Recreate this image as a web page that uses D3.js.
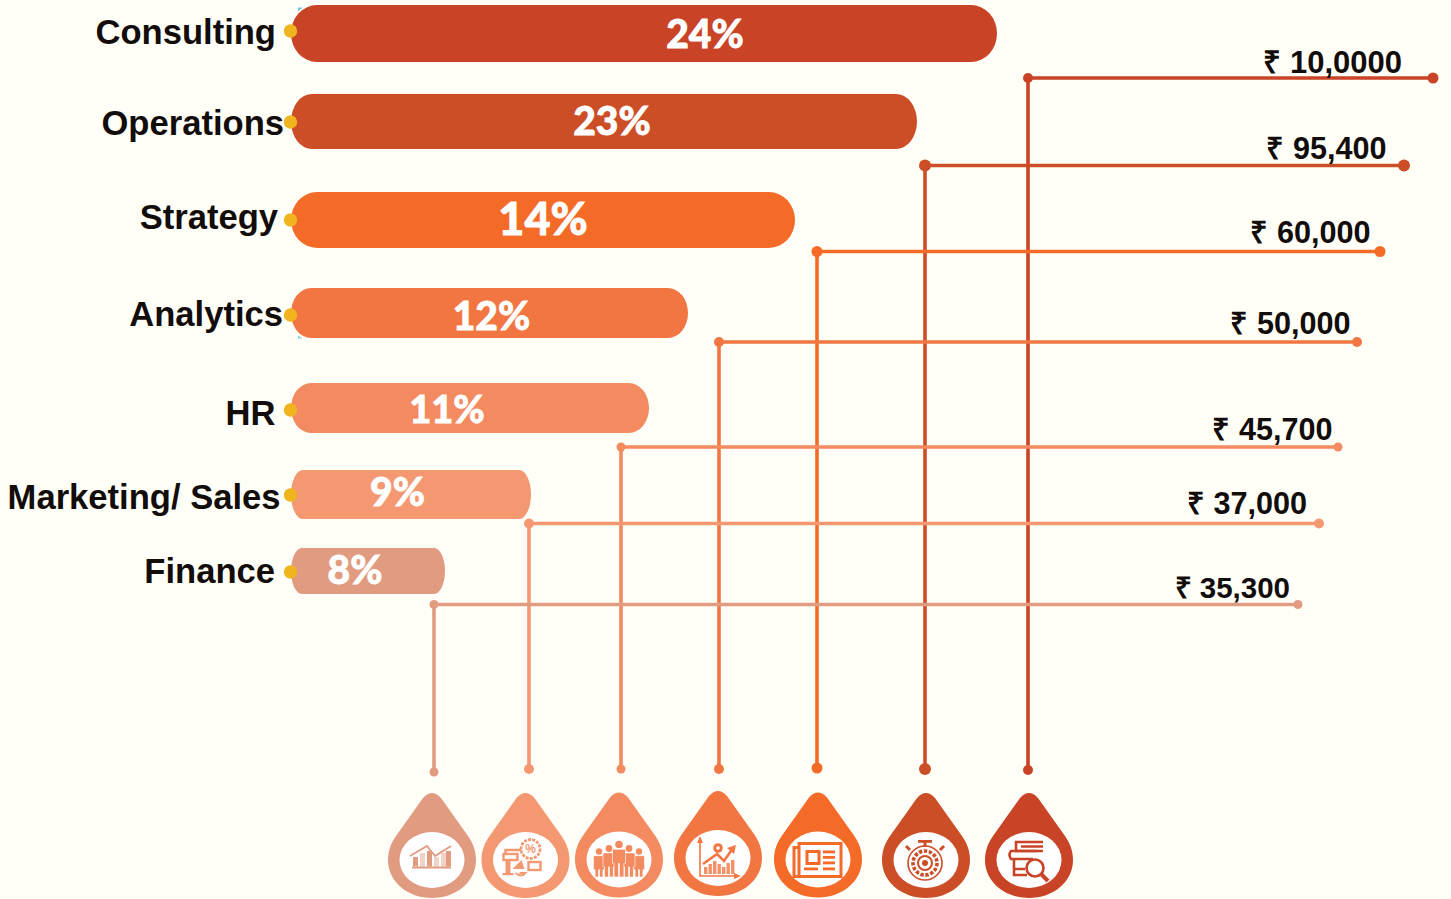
<!DOCTYPE html>
<html>
<head>
<meta charset="utf-8">
<script src="https://cdn.jsdelivr.net/npm/d3@7"></script>
<style>
  html, body { margin: 0; padding: 0; background: #fffff8; }
  svg { display: block; }
</style>
</head>
<body>
<svg id="chart" width="1451" height="899"></svg>
<script>
// --- Data ---
const categories = ["Consulting", "Operations", "Strategy", "Analytics", "HR", "Marketing/ Sales", "Finance"];
const shares = [24, 23, 14, 12, 11, 9, 8];
const salaries = [100000, 95400, 60000, 50000, 45700, 37000, 35300];
const salaryLabels = ["₹ 10,0000", "₹ 95,400", "₹ 60,000", "₹ 50,000", "₹ 45,700", "₹ 37,000", "₹ 35,300"];
const colors = ["#c94327", "#cb4e27", "#f46b28", "#f27642", "#f38a60", "#f49872", "#e09b80"];

const rows = categories.map((name, i) => ({
  name, share: shares[i], salary: salaries[i], label: salaryLabels[i], color: colors[i], icon: i
}));

const svg = d3.select("#chart");

// --- Scales: the infographic is hand laid out, so lengths are not proportional ---
const barLeft = 291;
const barWidth = d3.scaleLinear().domain([8, 9, 11, 12, 14, 23, 24]).range([154, 240, 358, 397, 504, 626, 706]);
const lineEnd = d3.scaleLinear().domain([35300, 37000, 45700, 50000, 60000, 95400, 100000])
  .range([1298, 1319, 1338, 1357, 1380, 1404, 1433]);

const barY = d3.scaleOrdinal(categories, [5, 94, 192, 288, 383, 470, 548]);
const barH = d3.scaleOrdinal(categories, [57, 55, 56, 50, 50, 49, 46]);
const barRx = d3.scaleOrdinal(categories, [26, 21, 26, 20, 20, 12, 11]);
const nameBase = d3.scaleOrdinal(categories, [44, 135, 229, 326, 425, 509, 583]);
const nameEnd = d3.scaleOrdinal(categories, [276, 284, 278, 283, 275.5, 280.5, 275]);
const dotY = d3.scaleOrdinal(categories, [31, 122, 220, 315, 410, 495, 572]);
const pctX = d3.scaleOrdinal(categories, [705, 612, 543, 491.5, 447, 397.5, 355]);
const pctBase = d3.scaleOrdinal(categories, [48, 135, 235, 329.5, 422.5, 506, 583.5]);
const pctSize = d3.scaleOrdinal(categories, [39, 39, 45, 39, 38, 39, 39]);
const lineY = d3.scaleOrdinal(categories, [78, 165.5, 251.5, 342, 447, 523.5, 604.5]);
const lineX = d3.scaleOrdinal(categories, [1028, 925, 817, 719, 621, 529, 434]);
const lineBottom = d3.scaleOrdinal(categories, [770, 769, 768, 769, 769, 769, 772]);
const endR = d3.scaleOrdinal(categories, [5.5, 6, 5.5, 5, 4.5, 5, 4.5]);
const cornerR = d3.scaleOrdinal(categories, [5, 6, 5.5, 5, 4.5, 5, 4.5]);
const valueEnd = d3.scaleOrdinal(categories, [1402, 1386.5, 1370.5, 1350.5, 1332.5, 1307, 1290]);
const valueBase = d3.scaleOrdinal(categories, [73, 159, 243, 334, 440, 514, 597.5]);
const valueSize = d3.scaleOrdinal(categories, [31, 30.6, 30.6, 30.6, 30.6, 30.6, 29.5]);
const dropX = d3.scaleOrdinal(categories, [1029, 926, 818, 718, 619, 525.5, 432]);
const dropY = d3.scaleOrdinal(categories, [860, 860, 859.5, 858, 859.5, 860, 860]);

// --- Connector lines ---
const lines = svg.append("g");
lines.selectAll("path")
  .data(rows)
  .join("path")
    .attr("d", d => `M${lineEnd(d.salary)},${lineY(d.name)}H${lineX(d.name)}V${lineBottom(d.name)}`)
    .attr("fill", "none")
    .attr("stroke", d => d.color)
    .attr("stroke-width", 3.6);
[
  d => [lineEnd(d.salary), lineY(d.name), endR(d.name)],
  d => [lineX(d.name), lineY(d.name), cornerR(d.name)],
  d => [lineX(d.name), lineBottom(d.name), cornerR(d.name)]
].forEach(pos => {
  lines.append("g").selectAll("circle")
    .data(rows)
    .join("circle")
      .attr("cx", d => pos(d)[0])
      .attr("cy", d => pos(d)[1])
      .attr("r", d => pos(d)[2])
      .attr("fill", d => d.color);
});

// little cyan slivers that peek out behind two bars in the original
svg.append("path")
  .attr("d", "M298,7.5h5l-5,4ZM298,335.5l4,3h-4Z")
  .attr("fill", "#7cc8d8");

// --- Bars ---
svg.append("g").selectAll("rect")
  .data(rows)
  .join("rect")
    .attr("x", barLeft)
    .attr("y", d => barY(d.name))
    .attr("width", d => barWidth(d.share))
    .attr("height", d => barH(d.name))
    .attr("rx", d => barRx(d.name))
    .attr("ry", d => barH(d.name) / 2)
    .attr("fill", d => d.color);

// gold dots on the left edge
svg.append("g").selectAll("circle")
  .data(rows)
  .join("circle")
    .attr("cx", 290.5)
    .attr("cy", d => dotY(d.name))
    .attr("r", 6.7)
    .attr("fill", "#f0b41e");

// --- Text ---
svg.append("g").selectAll("text")
  .data(rows)
  .join("text")
    .attr("x", d => nameEnd(d.name))
    .attr("y", d => nameBase(d.name))
    .attr("text-anchor", "end")
    .attr("fill", "#120d0b")
    .style("font", "bold 34.6px 'Liberation Sans'")
    .text(d => d.name);

svg.append("g").selectAll("text")
  .data(rows)
  .join("text")
    .attr("x", d => pctX(d.name))
    .attr("y", d => pctBase(d.name))
    .attr("text-anchor", "middle")
    .attr("fill", "#fff")
    .attr("stroke", "#fff")
    .attr("stroke-width", 0.8)
    .style("font-family", "Lato")
    .style("font-weight", 900)
    .style("font-size", d => pctSize(d.name) + "px")
    .text(d => d.share + "%");

svg.append("g").selectAll("text")
  .data(rows)
  .join("text")
    .attr("x", d => valueEnd(d.name))
    .attr("y", d => valueBase(d.name))
    .attr("text-anchor", "end")
    .attr("fill", "#120d0b")
    .style("font-family", "'Liberation Sans'")
    .style("font-weight", "bold")
    .style("font-size", d => valueSize(d.name) + "px")
    .text(d => d.label);

// --- Drops with icons ---
const dropPath = "M-9,-62Q0,-72 9,-62L36,-24C41,-17 44,-9 44,0C44,22 24,38 0,38C-24,38 -44,22 -44,0C-44,-9 -41,-17 -36,-24Z";

// small helpers for the icons
function box(g, x, y, w, h, c, o) {
  return g.append("rect").attr("x", x).attr("y", y).attr("width", w).attr("height", h)
    .attr("fill", c).attr("opacity", o === undefined ? 1 : o);
}
function frame(g, x, y, w, h, c, sw) {
  return g.append("rect").attr("x", x).attr("y", y).attr("width", w).attr("height", h)
    .attr("fill", "#fff").attr("stroke", c).attr("stroke-width", sw || 2);
}
function stroke(g, d, c, sw) {
  return g.append("path").attr("d", d).attr("fill", "none").attr("stroke", c).attr("stroke-width", sw || 2);
}
function dot(g, x, y, r, c) {
  return g.append("circle").attr("cx", x).attr("cy", y).attr("r", r).attr("fill", c);
}

// one drawing function per category, same order as categories
const icons = [
  // Consulting: books and magnifier
  (g, c) => {
    stroke(g, "M14,-18H-13V-9H14M-8,-13.5H14", c, 2.6);
    stroke(g, "M8,-9H-18Q-21,-5 -18,-1H4M-15,-1V9H-4M-15,9V15H-2", c, 2.6);
    g.append("circle").attr("cx", 6).attr("cy", 8).attr("r", 8.5).attr("fill", "#fff").attr("stroke", c).attr("stroke-width", 2.6);
    stroke(g, "M12.5,14.5L19,21", c, 4);
  },
  // Operations: stopwatch with gear
  (g, c) => {
    box(g, -8, -20, 14, 2.8, c);
    box(g, -2.5, -18, 3, 5, c);
    stroke(g, "M-16,-10L-20,-14M14,-10L18,-14", c, 3);
    g.append("circle").attr("cx", -1).attr("cy", 3).attr("r", 17).attr("fill", "none").attr("stroke", c).attr("stroke-width", 1.6);
    g.append("circle").attr("cx", -1).attr("cy", 3).attr("r", 12).attr("fill", "none").attr("stroke", c).attr("stroke-width", 3.6).attr("stroke-dasharray", "3.4 1.6");
    g.append("circle").attr("cx", -1).attr("cy", 3).attr("r", 7).attr("fill", "none").attr("stroke", c).attr("stroke-width", 2);
    dot(g, -1, 3, 3, c);
  },
  // Strategy: newspaper
  (g, c) => {
    frame(g, -24, -12, 9, 29, c, 3);
    frame(g, -19, -16, 42, 33, c, 3);
    g.append("rect").attr("x", -11).attr("y", -8).attr("width", 12).attr("height", 12)
      .attr("fill", "none").attr("stroke", c).attr("stroke-width", 3);
    d3.range(3).forEach(i => box(g, 5, -9 + i * 5.5, 12, 2.8, c));
    box(g, -14, 8, 14, 2.8, c);
    box(g, 5, 8, 12, 2.8, c);
  },
  // Analytics: growth chart with coin
  (g, c) => {
    stroke(g, "M-18,-17V18H18", c, 1.6);
    g.append("path").attr("d", "M-18,-22L-21,-15H-15ZM23,18L16,15V21Z").attr("fill", c);
    [[-14, 7], [-9.5, 10], [-5, 13], [-0.5, 10], [4, 7], [8.5, 11], [13, 14]].forEach(b => {
      box(g, b[0], 16 - b[1], 3.4, b[1], c, 0.8);
    });
    stroke(g, "M-15,6L-1,-4L6,3L15,-10", c, 2.6);
    g.append("path").attr("d", "M18,-13L9,-10L16,-4Z").attr("fill", c);
    dot(g, 0, -10, 4.8, c);
    dot(g, 0, -10, 1.8, "#fff");
  },
  // HR: group of people
  (g, c) => {
    const people = [[-20, -8, 3.2, 5.5], [20, -8, 3.2, 5.5], [-10, -11, 3.4, 6], [10, -11, 3.4, 6], [0, -15, 3.8, 6.5]];
    people.forEach(p => {
      const x = p[0], top = p[1] + p[2] + 1, w = p[3];
      dot(g, x, p[1], p[2], c);
      g.append("path")
        .attr("d", `M${x - w},${top + 1}Q${x - w},${top} ${x - w + 1},${top}H${x + w - 1}Q${x + w},${top} ${x + w},${top + 1}V${top + 14}H${x + w - 1.6}V17.5H${x + 0.5}V${top + 14}H${x - 0.5}V17.5H${x - w + 1.6}V${top + 14}H${x - w}Z`)
        .attr("fill", c)
        .attr("stroke", "#fff")
        .attr("stroke-width", 0.6);
    });
  },
  // Marketing/ Sales: discount badge, screen and briefcase
  (g, c) => {
    stroke(g, "M-20,-6V-10H-4", c, 2.4);
    frame(g, -22, -6, 14, 6, c, 2.4);
    box(g, -20, 0, 5, 13, c);
    box(g, -23, 13, 11, 2.2, c);
    g.append("path").attr("d", "M-13,9L-4,0L-1,9Z").attr("fill", c);
    stroke(g, "M-10,13Q-4,18 0,13H-6", c, 2);
    g.append("circle").attr("cx", 5).attr("cy", -11).attr("r", 9.5).attr("fill", "#fff").attr("stroke", c).attr("stroke-width", 2.8).attr("stroke-dasharray", "3 1.2");
    g.append("text").attr("x", 5).attr("y", -6.8).attr("text-anchor", "middle").attr("fill", c)
      .style("font", "bold 12px 'Liberation Sans'").text("%");
    frame(g, 3, 2, 12, 8, c, 2.4);
  },
  // Finance: bar chart with trend line
  (g, c) => {
    box(g, -20, 6.5, 39, 2, c);
    [[-19, -3, 1], [-12, -7, 0.45], [-5, -9, 1], [2, -3, 0.45], [9, -7, 0.45], [14, -9, 1]].forEach(b => {
      box(g, b[0], b[1], 5, 6.5 - b[1], c, b[2]);
    });
    stroke(g, "M-22,-4L-5,-14L3,-4L19,-14", c, 1.8);
  }
];

const drops = svg.append("g").selectAll("g")
  .data(rows)
  .join("g")
    .attr("transform", d => `translate(${dropX(d.name)},${dropY(d.name)})`);
drops.append("path").attr("d", dropPath).attr("fill", d => d.color);
drops.append("ellipse").attr("rx", 32.5).attr("ry", 28).attr("fill", "#fff");
drops.each(function(d) {
  icons[d.icon](d3.select(this), d.color);
});
</script>
</body>
</html>
